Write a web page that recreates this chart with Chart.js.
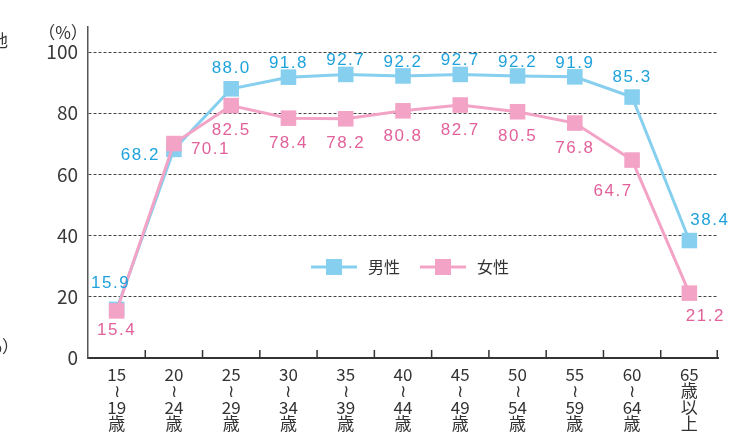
<!DOCTYPE html>
<html>
<head>
<meta charset="utf-8">
<script src="https://cdn.jsdelivr.net/npm/chart.js@4.4.1/dist/chart.umd.min.js"></script>
<style>
  body { margin: 0; background: #fff; }
  canvas { display: block; }
</style>
</head>
<body>
<canvas id="chart" width="739" height="432"></canvas>
<script>
const ageGroups = [
  ["15", "≀", "19", "歳"],
  ["20", "≀", "24", "歳"],
  ["25", "≀", "29", "歳"],
  ["30", "≀", "34", "歳"],
  ["35", "≀", "39", "歳"],
  ["40", "≀", "44", "歳"],
  ["45", "≀", "49", "歳"],
  ["50", "≀", "54", "歳"],
  ["55", "≀", "59", "歳"],
  ["60", "≀", "64", "歳"],
  ["65", "歳", "以", "上"],
];
const maleRates = [15.9, 68.2, 88.0, 91.8, 92.7, 92.2, 92.7, 92.2, 91.9, 85.3, 38.4];
const femaleRates = [15.4, 70.1, 82.5, 78.4, 78.2, 80.8, 82.7, 80.5, 76.8, 64.7, 21.2];
const yTicks = [0, 20, 40, 60, 80, 100];
const seriesNames = ["男性", "女性"];

const MALE_LINE = "#86cfef";
const MALE_TEXT = "#1fa2dc";
const FEMALE_LINE = "#f3a3c5";
const FEMALE_TEXT = "#e2619b";
const INK = "#333";

// where each value label sits relative to its point: [dx, dy, align]
const labelPlaces = {
  up: [0, -20, "center"],
  upTight: [0, -14, "center"],
  upLeft: [-6, -26, "center"],
  upRight: [1, -20, "left"],
  left: [-14, 6, "right"],
  right: [17, 6, "left"],
  down: [0, 25, "center"],
  downLow: [0, 19, "center"],
  downLeft: [-19, 31, "center"],
  downRight: [16, 23, "center"],
};
const maleLabelPos = ["upLeft", "left", "up", "upTight", "upTight", "upTight", "upTight", "upTight", "upTight", "up", "upRight"];
const femaleLabelPos = ["downLow", "right", "down", "down", "down", "down", "down", "down", "down", "downLeft", "downRight"];

const extras = {
  id: "extras",
  afterDraw(chart) {
    const ctx = chart.ctx;
    const area = chart.chartArea;
    const x = chart.scales.x;

    // upward ticks on the x axis at category boundaries
    ctx.save();
    ctx.strokeStyle = INK;
    ctx.lineWidth = 1.5;
    for (let i = 0; i < ageGroups.length; i++) {
      const px = i < ageGroups.length - 1
        ? (x.getPixelForValue(i) + x.getPixelForValue(i + 1)) / 2
        : area.right - 0.75;
      ctx.beginPath();
      ctx.moveTo(px, area.bottom);
      ctx.lineTo(px, area.bottom - 8);
      ctx.stroke();
    }
    ctx.restore();

    // unit label and clipped text from the neighbouring figure
    ctx.save();
    ctx.fillStyle = INK;
    ctx.textBaseline = "middle";
    ctx.font = "17px 'Noto Sans CJK JP'";
    ctx.textAlign = "center";
    ctx.fillText("（%）", 63, 33);
    ctx.textAlign = "right";
    ctx.fillText("地", 8, 41);
    ctx.fillText("（%）", 19, 347);
    ctx.restore();

    // value labels
    ctx.save();
    ctx.font = "17px 'Liberation Sans', Arial, sans-serif";
    ctx.letterSpacing = "1.5px";
    ctx.textBaseline = "middle";
    [[maleRates, maleLabelPos, MALE_TEXT], [femaleRates, femaleLabelPos, FEMALE_TEXT]].forEach(([values, places, color], di) => {
      const meta = chart.getDatasetMeta(di);
      ctx.fillStyle = color;
      values.forEach((v, i) => {
        const pt = meta.data[i];
        const [dx, dy, align] = labelPlaces[places[i]];
        ctx.textAlign = align;
        ctx.fillText(v.toFixed(1), pt.x + dx, pt.y + dy);
      });
    });
    ctx.restore();

    // legend inside the plot
    ctx.save();
    const ly = area.top + (area.bottom - area.top) * 0.725;
    const items = [
      [seriesNames[0], MALE_LINE, area.left + 223],
      [seriesNames[1], FEMALE_LINE, area.left + 332],
    ];
    items.forEach(([name, color, lx]) => {
      ctx.strokeStyle = color;
      ctx.lineWidth = 3;
      ctx.beginPath();
      ctx.moveTo(lx, ly);
      ctx.lineTo(lx + 46, ly);
      ctx.stroke();
      ctx.fillStyle = color;
      ctx.fillRect(lx + 23 - 8, ly - 8, 16, 16);
      ctx.fillStyle = INK;
      ctx.font = "16px 'Noto Sans CJK JP'";
      ctx.textAlign = "left";
      ctx.textBaseline = "middle";
      ctx.fillText(name, lx + 57, ly);
    });
    ctx.restore();
  },
};

new Chart(document.getElementById("chart"), {
  type: "line",
  data: {
    labels: ageGroups,
    datasets: [
      {
        label: seriesNames[0],
        data: maleRates,
        borderColor: MALE_LINE,
        backgroundColor: MALE_LINE,
        borderWidth: 3,
        pointStyle: "rect",
        pointRadius: 11,
        pointBorderWidth: 0,
        order: 1,
      },
      {
        label: seriesNames[1],
        data: femaleRates,
        borderColor: FEMALE_LINE,
        backgroundColor: FEMALE_LINE,
        borderWidth: 3,
        pointStyle: "rect",
        pointRadius: 11,
        pointBorderWidth: 0,
        order: 0,
      },
    ],
  },
  options: {
    responsive: false,
    devicePixelRatio: 1,
    animation: false,
    layout: { padding: { top: 27, right: 21, left: 0, bottom: 0 } },
    plugins: { legend: { display: false }, tooltip: { enabled: false } },
    scales: {
      x: {
        offset: true,
        grid: { display: false, drawTicks: false },
        border: { display: true, color: INK, width: 2 },
        ticks: {
          autoSkip: false,
          maxRotation: 0,
          padding: 8,
          color: INK,
          font: { family: "'Liberation Sans Narrow', 'Noto Sans CJK JP'", size: 17, lineHeight: 0.97 },
        },
        afterFit(scale) { scale.height = 74; },
      },
      y: {
        min: 0,
        max: 108.2,
        afterBuildTicks(scale) { scale.ticks = yTicks.map((v) => ({ value: v })); },
        grid: { color: "#444", lineWidth: 1, drawTicks: false },
        border: { display: true, color: "#555", width: 1.5, dash: [3, 2] },
        ticks: {
          padding: 10,
          color: "#3a3a3a",
          font: { family: "'Liberation Sans Narrow', 'Noto Sans CJK JP'", size: 19 },
        },
        afterFit(scale) { scale.width = 88; },
      },
    },
  },
  plugins: [extras],
});
</script>
</body>
</html>
